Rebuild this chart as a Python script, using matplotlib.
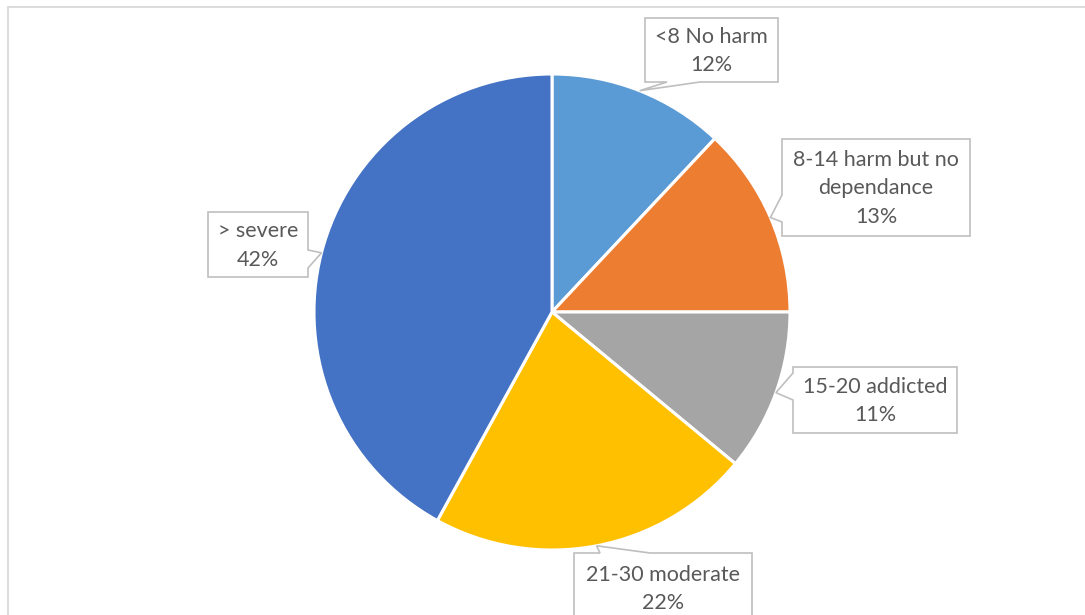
import numpy as np
import matplotlib.pyplot as plt
from matplotlib.patches import Polygon, Rectangle

# AUDIT score bands and share of respondents
categories = ["<8 No harm", "8-14 harm but no\ndependance", "15-20 addicted",
              "21-30 moderate", "> severe"]
shares = [12, 13, 11, 22, 42]
colors = ["#5B9BD5", "#ED7D31", "#A5A5A5", "#FFC000", "#4472C4"]

W, H = 1085, 615

# callout boxes in pixel layout: (x0, y0, x1, y1), side of the pointer, pointer base span
callouts = [
    ((645, 18, 778, 82), "bottom", (667, 700)),
    ((782, 139, 970, 236), "left", (195, 222)),
    ((793, 367, 957, 433), "left", (373, 400)),
    ((574, 553, 752, 650), "top", (600, 650)),
    ((208, 212, 308, 277), "right", (250, 268)),
]


def px(x, y):
    return (x, H - y)


def callout_points(box, side, base, tip):
    x0, y0, x1, y1 = box
    a, b = base
    if side == "bottom":
        pts = [(x0, y0), (x1, y0), (x1, y1), (b, y1), None, (a, y1), (x0, y1)]
    elif side == "left":
        pts = [(x0, y0), (x1, y0), (x1, y1), (x0, y1), (x0, b), None, (x0, a)]
    elif side == "top":
        pts = [(x0, y0), (a, y0), None, (b, y0), (x1, y0), (x1, y1), (x0, y1)]
    else:
        pts = [(x0, y0), (x1, y0), (x1, a), None, (x1, b), (x1, y1), (x0, y1)]
    return [tip if p is None else px(*p) for p in pts]


fig = plt.figure(figsize=(W / 100, H / 100), dpi=100)
ax = fig.add_axes([0, 0, 1, 1])

# chart area border
ax.add_patch(Rectangle(px(8, 625), W, 618, fill=False, edgecolor="#D9D9D9",
                       linewidth=1.3, zorder=0))

cx, cy = px(552, 312)
radius = 238
wedges, _ = ax.pie(shares, colors=colors, startangle=90, counterclock=False,
                   center=(cx, cy), radius=radius, frame=True,
                   wedgeprops=dict(edgecolor="white", linewidth=2.2))
ax.set_xlim(0, W)
ax.set_ylim(0, H)
ax.axis("off")

for w, cat, val, (box, side, base) in zip(wedges, categories, shares, callouts):
    mid = np.deg2rad((w.theta1 + w.theta2) / 2)
    tip = (w.center[0] + w.r * np.cos(mid), w.center[1] + w.r * np.sin(mid))
    poly = Polygon(callout_points(box, side, base, tip), closed=True,
                   facecolor="white", edgecolor="#BFBFBF", linewidth=1.2, zorder=3)
    ax.add_patch(poly)
    x0, y0, x1, y1 = box
    if side == "top":
        y1 = y0 + 70
    ax.text(*px((x0 + x1) / 2, (y0 + y1) / 2 + 1), f"{cat}\n{val}%", ha="center",
            va="center", fontsize=15.5, family="Lato", color="#595959",
            linespacing=1.55, zorder=4)

fig.savefig("out.png", dpi=100)
